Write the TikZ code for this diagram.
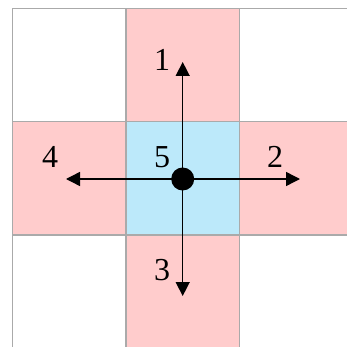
\documentclass[tikz,border=0pt]{standalone}
\usepackage{fontspec}
\setmainfont{Liberation Serif}
\usetikzlibrary{arrows.meta}
\definecolor{pinkc}{RGB}{255,204,204}
\definecolor{bluec}{RGB}{188,233,250}
\definecolor{gridc}{RGB}{170,170,170}
\begin{document}
\begin{tikzpicture}[x=1pt,y=-1pt,
  cellp/.style={fill=pinkc},
  cellb/.style={fill=bluec},
  gridl/.style={draw=gridc,line width=1.2pt},
  arr/.style={line width=1.4pt,-{Triangle[length=14pt,width=14pt]}},
  lab/.style={font=\fontsize{32}{32}\selectfont,inner sep=0pt}]
\useasboundingbox (0,0) rectangle (347,347);
\clip (0,0) rectangle (347,347);
\fill[white] (0,0) rectangle (347,347);
% colored cells
\path[cellp] (126,8.3) rectangle (239.3,121.7);
\path[cellp] (12.7,121.7) rectangle (126,235);
\path[cellb] (126,121.7) rectangle (239.3,235);
\path[cellp] (239.3,121.7) rectangle (352.6,235);
\path[cellp] (126,235) rectangle (239.3,348.3);
% grid
\draw[gridl] (12.7,8.3) rectangle (352.6,348.3);
\draw[gridl] (126,8.3) -- (126,348.3);
\draw[gridl] (239.3,8.3) -- (239.3,348.3);
\draw[gridl] (12.7,121.7) -- (352.6,121.7);
\draw[gridl] (12.7,235) -- (352.6,235);
% center and arrow ends
\coordinate (c) at (182.7,179);
\coordinate (up) at (182.7,62);
\coordinate (dn) at (182.7,296);
\coordinate (lt) at (66,179);
\coordinate (rt) at (300,179);
\draw[arr] (c) -- (up);
\draw[arr] (c) -- (dn);
\draw[arr] (c) -- (lt);
\draw[arr] (c) -- (rt);
\node[circle,fill=black,minimum size=23pt,inner sep=0pt] (dot) at (c) {};
% labels
\node[lab] (l1) at (162,60) {1};
\node[lab] (l2) at (275,157) {2};
\node[lab] (l3) at (162,270) {3};
\node[lab] (l4) at (50,157) {4};
\node[lab] (l5) at (162,157) {5};
\end{tikzpicture}
\end{document}
